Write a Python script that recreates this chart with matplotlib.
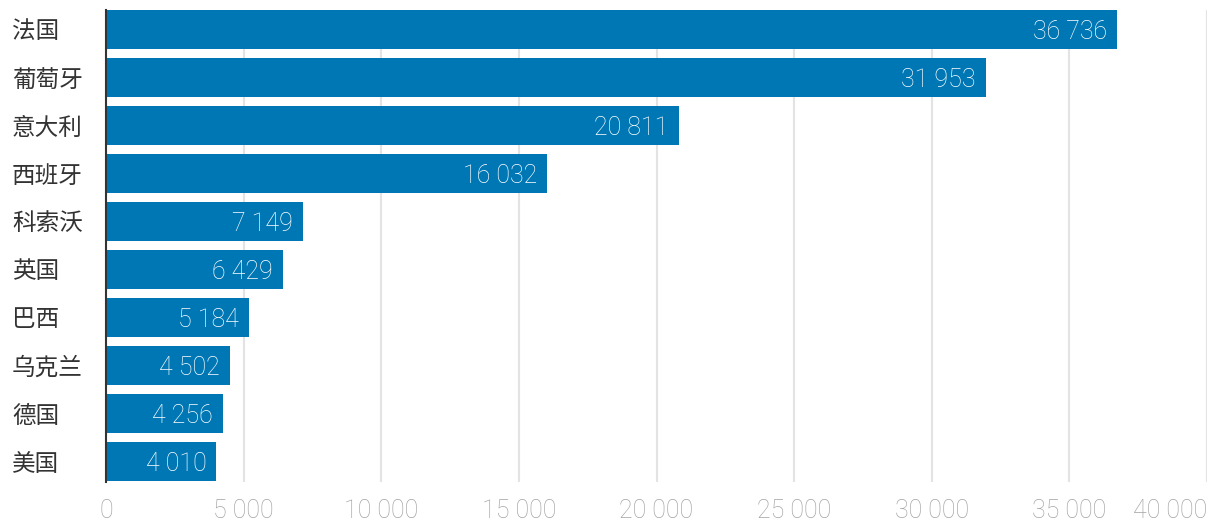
import matplotlib
matplotlib.use("Agg")
import matplotlib.pyplot as plt
from matplotlib.ticker import FuncFormatter, MultipleLocator

plt.rcParams['font.family'] = ['Roboto', 'Noto Sans CJK SC', 'DejaVu Sans']

# data
countries = ['法国', '葡萄牙', '意大利', '西班牙', '科索沃',
             '英国', '巴西', '乌克兰', '德国', '美国']
values = [36736, 31953, 20811, 16032, 7149, 6429, 5184, 4502, 4256, 4010]
XMAX = 40000

BAR = '#0077b5'


def fmt(v):
    return '{:,}'.format(int(v)).replace(',', ' ')


def tick_fmt(v, p):
    # last label is drawn separately, right aligned
    if v >= XMAX:
        return ''
    return fmt(v)


fig = plt.figure(figsize=(12.2, 5.3), dpi=100)
ax = fig.add_axes([106 / 1220, 1 - 482 / 530, (1207 - 106) / 1220, 472 / 530])

ypos = list(range(len(countries)))
ax.barh(ypos, values, height=0.8125, color=BAR, zorder=2)

for y, v in zip(ypos, values):
    ax.annotate(fmt(v), xy=(v, y), xytext=(-10, 0), textcoords='offset pixels',
                ha='right', va='center_baseline', color='white', fontsize=18,
                fontweight='light', zorder=3)

ax.set_xlim(0, XMAX)
ax.set_ylim(9.427, -0.406)

ax.xaxis.set_major_locator(MultipleLocator(5000))
ax.xaxis.set_major_formatter(FuncFormatter(tick_fmt))
ax.grid(axis='x', color='#e3e3e3', linewidth=1.5, zorder=0)
ax.set_axisbelow(True)

ax.set_yticks(ypos)
ax.set_yticklabels(countries, fontsize=17, color='#333333',
                   family=['Noto Sans CJK SC', 'DejaVu Sans'])
ax.tick_params(axis='y', length=0, pad=94 * 72 / 100)
ax.tick_params(axis='x', length=0, pad=12, labelsize=18, labelcolor='#a3a3a3')
ax.annotate(fmt(XMAX), xy=(XMAX, 0), xycoords=ax.get_xaxis_transform(),
            xytext=(0, -12), textcoords='offset points', ha='right', va='top',
            fontsize=18, fontweight='light', color='#a3a3a3')

for s in ['top', 'right', 'bottom']:
    ax.spines[s].set_visible(False)
ax.spines['left'].set_color('#333333')
ax.spines['left'].set_linewidth(1.5)
ax.spines['left'].set_zorder(4)

fig.canvas.draw()
for lab in ax.get_yticklabels():
    lab.set_horizontalalignment('left')
for lab in ax.get_xticklabels():
    lab.set_fontweight('light')

fig.savefig('out.png', dpi=100)
